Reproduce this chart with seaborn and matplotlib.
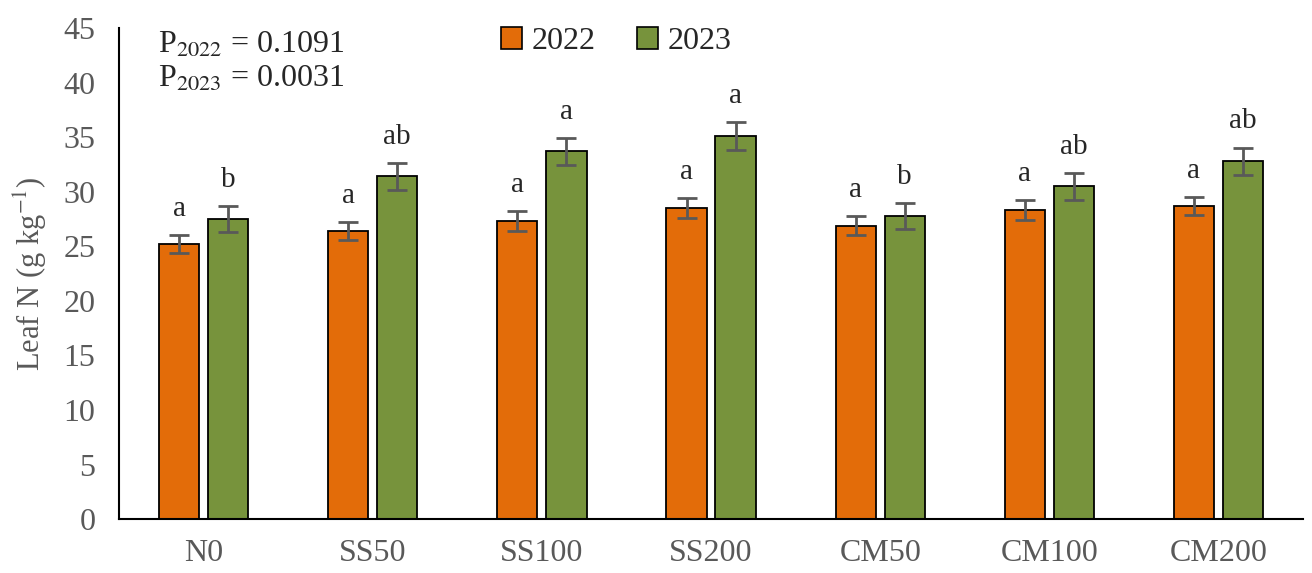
import numpy as np
import pandas as pd
import matplotlib
matplotlib.use("Agg")
import matplotlib.pyplot as plt
import seaborn as sns
from matplotlib.patches import Patch

treatments = ["N0", "SS50", "SS100", "SS200", "CM50", "CM100", "CM200"]
years = ["2022", "2023"]
n_2022 = [25.2, 26.4, 27.3, 28.5, 26.9, 28.3, 28.7]
n_2023 = [27.5, 31.4, 33.7, 35.1, 27.8, 30.5, 32.8]
se_2022 = [0.8, 0.85, 0.9, 0.9, 0.9, 0.9, 0.85]
se_2023 = [1.2, 1.2, 1.25, 1.25, 1.2, 1.25, 1.25]
let_2022 = ["a", "a", "a", "a", "a", "a", "a"]
let_2023 = ["b", "ab", "a", "a", "b", "ab", "ab"]

df = pd.DataFrame({
    "treatment": treatments * 2,
    "year": ["2022"] * 7 + ["2023"] * 7,
    "leafN": n_2022 + n_2023,
})

sns.set_style("white")
plt.rcParams["font.family"] = ["Liberation Serif", "DejaVu Serif"]
plt.rcParams["mathtext.fontset"] = "stix"

colors = {"2022": "#E36C09", "2023": "#77933C"}
grey = "#595959"

fig = plt.figure(figsize=(13.12, 5.73), dpi=100)
ax = fig.add_axes([0.0907, 0.094, 0.9025, 0.857])

sns.barplot(data=df, x="treatment", y="leafN", hue="year", order=treatments,
            hue_order=years, palette=colors, width=0.58, gap=0.18,
            saturation=1, errorbar=None, edgecolor="black", linewidth=1.3,
            legend=False, ax=ax)

for cont, vals, errs, lets in zip(ax.containers, [n_2022, n_2023],
                                  [se_2022, se_2023], [let_2022, let_2023]):
    xs = [b.get_x() + b.get_width() / 2 for b in cont]
    ax.errorbar(xs, vals, yerr=errs, fmt="none", ecolor=grey, elinewidth=2,
                capsize=7, capthick=2, zorder=5)
    for x, v, e, l in zip(xs, vals, errs, lets):
        ax.text(x, v + e + 1.2, l, ha="center", va="bottom", fontsize=21,
                color="#262626")

ax.set_ylim(0, 45)
ax.set_yticks(np.arange(0, 46, 5))
ax.set_xlim(-0.5, 6.5)
ax.set_xticks(range(7))
ax.set_xticklabels(treatments)
ax.set_xticks(np.arange(-0.5, 7, 1), minor=True)
ax.tick_params(axis="x", which="major", length=0, pad=14, labelsize=23,
               labelcolor=grey)
ax.tick_params(axis="x", which="minor", length=8, width=1.5, direction="out",
               color="black")
ax.tick_params(axis="y", length=7, width=1.5, direction="out", labelsize=23,
               labelcolor=grey, color="black", pad=10)
ax.set_xlabel("")
ax.set_ylabel("Leaf N (g kg$^{-1}$)", fontsize=22, color=grey, labelpad=10)

for s in ["top", "right"]:
    ax.spines[s].set_visible(False)
for s in ["left", "bottom"]:
    ax.spines[s].set_color("black")
    ax.spines[s].set_linewidth(1.5)

ax.text(0.033, 0.995, "P$_{2022}$ = 0.1091", transform=ax.transAxes,
        fontsize=23, va="top", ha="left")
ax.text(0.033, 0.925, "P$_{2023}$ = 0.0031", transform=ax.transAxes,
        fontsize=23, va="top", ha="left")

handles = [Patch(facecolor=colors[y], edgecolor="black", linewidth=1.2, label=y)
           for y in years]
ax.legend(handles=handles, loc="upper center", bbox_to_anchor=(0.42, 1.06),
          ncol=2, frameon=False, fontsize=23, handlelength=0.65,
          handleheight=0.65, handletextpad=0.3, columnspacing=1.3)

fig.savefig("out.png", dpi=100)
